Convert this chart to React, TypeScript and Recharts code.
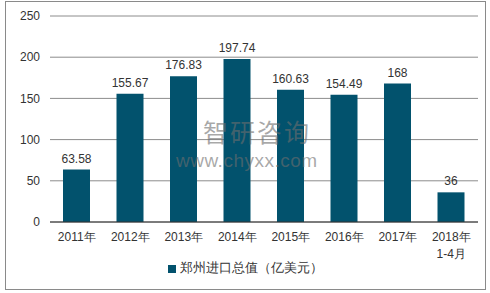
import React from 'react';
import { BarChart, Bar, XAxis, YAxis, CartesianGrid, Legend, LabelList } from 'recharts';

const categories = ['2011年', '2012年', '2013年', '2014年', '2015年', '2016年', '2017年', '2018年\n1-4月'];
const importValues = [63.58, 155.67, 176.83, 197.74, 160.63, 154.49, 168, 36];
const yTicks = [0, 50, 100, 150, 200, 250];
const seriesName = '郑州进口总值（亿美元）';

const data = categories.map((c, i) => ({ name: c, value: importValues[i] }));

const FONT = '"Liberation Sans", Arial, sans-serif';
const TEXT = '#333333';
const BAR = '#02526D';

const XTick = (props: any) => {
  const { x, y, payload } = props;
  const lines = String(payload.value).split('\n');
  return (
    <text x={x} y={y + 19} textAnchor="middle" fill={TEXT} fontSize={12} fontFamily={FONT}>
      {lines.map((l, i) => (
        <tspan key={i} x={x} dy={i === 0 ? 0 : 17}>{l}</tspan>
      ))}
    </text>
  );
};

export default function App() {
  return (
    <div style={{ position: 'absolute', left: 0, top: 0, width: 490, height: 293, background: '#fff' }}>
      <div style={{ position: 'absolute', left: 5, top: 1, width: 479, height: 287, border: '1px solid #8a8a8a' }} />
      <BarChart
        width={490}
        height={293}
        data={data}
        margin={{ top: 16, right: 12, bottom: 41, left: 0 }}
        barSize={27}
      >
        <CartesianGrid vertical={false} stroke="#8c8c8c" strokeWidth={1} />
        <XAxis
          dataKey="name"
          height={30}
          tickLine={false}
          tickSize={0}
          tickMargin={0}
          axisLine={{ stroke: '#333333' }}
          interval={0}
          tick={<XTick />}
        />
        <YAxis
          width={50}
          domain={[0, 250]}
          ticks={yTicks}
          axisLine={false}
          tickLine={false}
          tickSize={0}
          tickMargin={10}
          tick={{ fill: TEXT, fontSize: 12, fontFamily: FONT }}
        />
        <Legend
          verticalAlign="middle"
          align="center"
          iconType="square"
          iconSize={8}
          wrapperStyle={{ top: 259, left: 5, width: 490, fontFamily: FONT, fontSize: 13 }}
          formatter={(v: any) => <span style={{ color: TEXT }}>{v}</span>}
        />
        <Bar dataKey="value" name={seriesName} fill={BAR} isAnimationActive={false}>
          <LabelList dataKey="value" position="top" offset={7} fill={TEXT} fontSize={12} fontFamily={FONT} />
        </Bar>
      </BarChart>
      <div style={{ position: 'absolute', left: 203, top: 118, fontFamily: '"Noto Sans CJK SC", sans-serif', fontSize: 25, color: 'rgba(110,110,110,0.6)', lineHeight: '27px', pointerEvents: 'none', letterSpacing: 2 }}>
        智研咨询
      </div>
      <div style={{ position: 'absolute', left: 176, top: 152, fontFamily: FONT, fontSize: 19, color: 'rgba(110,110,110,0.6)', lineHeight: '18px', pointerEvents: 'none', letterSpacing: 0.5 }}>
        www.chyxx.com
      </div>
    </div>
  );
}
